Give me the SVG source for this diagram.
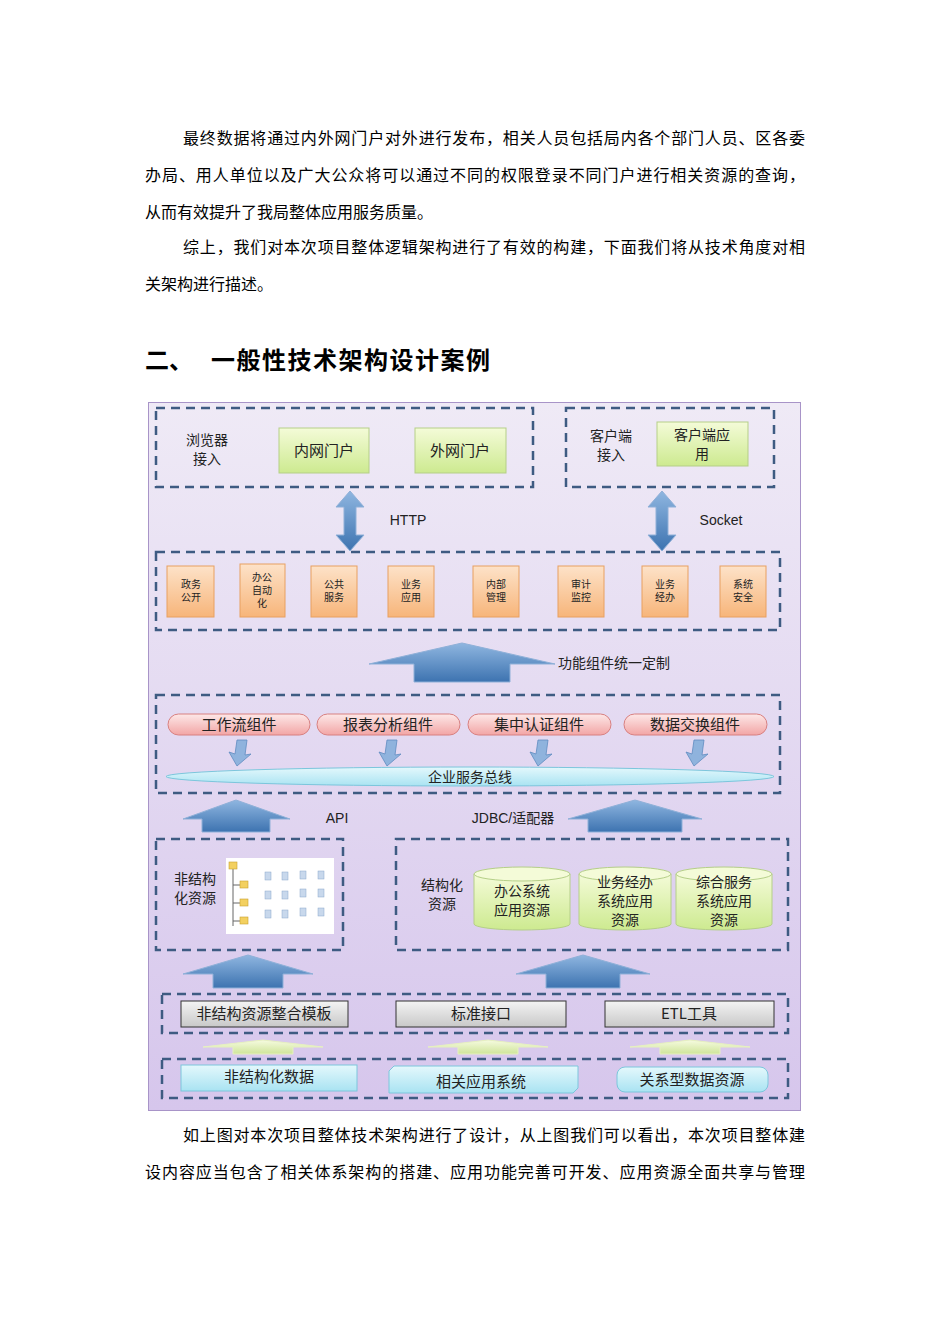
<svg xmlns="http://www.w3.org/2000/svg" width="950" height="1344" viewBox="0 0 950 1344">
<defs>
<linearGradient id="bg" x1="0" y1="0" x2="0" y2="1"><stop offset="0" stop-color="#efeaf6"/><stop offset="1" stop-color="#d6c6ec"/></linearGradient>
<linearGradient id="gr" x1="0" y1="0" x2="0" y2="1"><stop offset="0" stop-color="#f4fbd8"/><stop offset="1" stop-color="#cdea90"/></linearGradient>
<linearGradient id="or" x1="0" y1="0" x2="0" y2="1"><stop offset="0" stop-color="#fde2c8"/><stop offset="1" stop-color="#f7b57a"/></linearGradient>
<linearGradient id="pk" x1="0" y1="0" x2="0" y2="1"><stop offset="0" stop-color="#fde8e8"/><stop offset="1" stop-color="#f2a5a5"/></linearGradient>
<linearGradient id="cy" x1="0" y1="0" x2="0" y2="1"><stop offset="0" stop-color="#e4f8fc"/><stop offset="1" stop-color="#a9e3f2"/></linearGradient>
<linearGradient id="gy" x1="0" y1="0" x2="0" y2="1"><stop offset="0" stop-color="#f4f4f4"/><stop offset="1" stop-color="#c8c8c8"/></linearGradient>
<linearGradient id="bl" x1="0" y1="0" x2="0" y2="1"><stop offset="0" stop-color="#8fb6e0"/><stop offset="1" stop-color="#3d73b0"/></linearGradient>
<linearGradient id="lg" x1="0" y1="0" x2="0" y2="1"><stop offset="0" stop-color="#f6fbe0"/><stop offset="1" stop-color="#cfe59a"/></linearGradient>
</defs>
<style>
.p{font-family:"Noto Sans CJK SC","Liberation Serif",serif;font-size:16px;fill:#000}
.h{font-family:"Noto Sans CJK SC",sans-serif;font-size:24px;font-weight:bold;fill:#000}
.t{font-family:"Noto Sans CJK SC","Liberation Sans",sans-serif;font-size:15px;fill:#222;text-anchor:middle}
.m{font-family:"Noto Sans CJK SC","Liberation Sans",sans-serif;font-size:14px;fill:#222;text-anchor:middle}
.s{font-family:"Noto Sans CJK SC",sans-serif;font-size:10px;fill:#222;text-anchor:middle}
.l{font-family:"Liberation Sans","Noto Sans CJK SC",sans-serif;font-size:14px;fill:#222;text-anchor:middle}
.d{fill:none;stroke:#3e5b82;stroke-width:2.5;stroke-dasharray:9,6}
.ba{fill:url(#bl);stroke:#8fb0d8;stroke-width:1}
.ga{fill:url(#lg);stroke:#e6f0c0;stroke-width:1}
</style>
<rect width="950" height="1344" fill="#fff"/>
<g id="text-top">
<text class="p" x="183" y="144" textLength="622">最终数据将通过内外网门户对外进行发布，相关人员包括局内各个部门人员、区各委</text>
<text class="p" x="145" y="181" textLength="660">办局、用人单位以及广大公众将可以通过不同的权限登录不同门户进行相关资源的查询，</text>
<text class="p" x="145" y="218">从而有效提升了我局整体应用服务质量。</text>
<text class="p" x="183" y="253" textLength="622">综上，我们对本次项目整体逻辑架构进行了有效的构建，下面我们将从技术角度对相</text>
<text class="p" x="145" y="290">关架构进行描述。</text>
<text class="h" x="145" y="369">二、</text>
<text class="h" x="211" y="369" textLength="279">一般性技术架构设计案例</text>
</g>
<rect x="148.5" y="402.5" width="652" height="708" fill="url(#bg)" stroke="#a894c8"/>
<g id="groups">
<rect class="d" x="156" y="408" width="377" height="79"/>
<rect class="d" x="566" y="408" width="208" height="79"/>
<rect class="d" x="156" y="552" width="624" height="78"/>
<rect class="d" x="156" y="695" width="624" height="98"/>
<rect class="d" x="156" y="839" width="187" height="111"/>
<rect class="d" x="396" y="839" width="392" height="111"/>
<rect class="d" x="162" y="994" width="626" height="39"/>
<rect class="d" x="162" y="1059" width="626" height="39"/>
</g>
<g id="connectors">
<path class="ba" d="M350 491 L364 507 L356 507 L356 535 L364 535 L350 551 L336 535 L344 535 L344 507 L336 507 Z"/>
<path class="ba" d="M662 491 L676 507 L668 507 L668 535 L676 535 L662 551 L648 535 L656 535 L656 507 L648 507 Z"/>
<path class="ba" d="M369 664 L462 643 L555 664 L510 664 L510 682 L414 682 L414 664 Z"/>
<path class="ba" d="M183 819 L236 800 L290 819 L270 819 L270 832 L202 832 L202 819 Z"/>
<path class="ba" d="M568 819 L635 800 L702 819 L682 819 L682 832 L588 832 L588 819 Z"/>
<path class="ba" d="M183 974 L248 955 L313 974 L283 974 L283 988 L213 988 L213 974 Z"/>
<path class="ba" d="M516 974 L583 955 L650 974 L620 974 L620 988 L546 988 L546 974 Z"/>
<path class="ga" d="M203 1047 L263 1040 L323 1047 L293 1047 L293 1054 L233 1054 L233 1047 Z"/>
<path class="ga" d="M428 1047 L488 1040 L548 1047 L518 1047 L518 1054 L458 1054 L458 1047 Z"/>
<path class="ga" d="M630 1047 L690 1040 L750 1047 L720 1047 L720 1054 L660 1054 L660 1047 Z"/>
<g fill="#8fb3dd" stroke="#5f8bc0" stroke-width="0.8">
<path d="M237 740 L247 740 L245 755 L251 754 L237 766 L229 752 L235 754 Z"/>
<path d="M387 740 L397 740 L395 755 L401 754 L387 766 L379 752 L385 754 Z"/>
<path d="M538 740 L548 740 L546 755 L552 754 L538 766 L530 752 L536 754 Z"/>
<path d="M694 740 L704 740 L702 755 L708 754 L694 766 L686 752 L692 754 Z"/>
</g>
<text class="l" x="408" y="525">HTTP</text>
<text class="l" x="721" y="525">Socket</text>
<text class="t" x="558" y="668" style="text-anchor:start;font-size:14px">功能组件统一定制</text>
<text class="l" x="337" y="823">API</text>
<text class="l" x="513" y="823">JDBC/适配器</text>
</g>
<g id="access">
<text class="m" x="207" y="445">浏览器</text><text class="m" x="207" y="464">接入</text>
<text class="m" x="611" y="441">客户端</text><text class="m" x="611" y="460">接入</text>
</g>
<g id="n-intranet"><rect x="279" y="428" width="90" height="45" fill="url(#gr)" stroke="#b5cf88"/><text class="t" x="324" y="456">内网门户</text></g>
<g id="n-extranet"><rect x="415" y="428" width="91" height="45" fill="url(#gr)" stroke="#b5cf88"/><text class="t" x="460" y="456">外网门户</text></g>
<g id="n-client"><rect x="657" y="422" width="91" height="44" fill="url(#gr)" stroke="#b5cf88"/><text class="m" x="702" y="440">客户端应</text><text class="m" x="702" y="459">用</text></g>
<g id="functions" stroke="#e8a060">
<g id="f1"><rect x="167" y="566" width="47" height="51" fill="url(#or)"/><text class="s" x="191" y="588" stroke="none">政务</text><text class="s" x="191" y="601" stroke="none">公开</text></g>
<g id="f2"><rect x="240" y="564" width="45" height="53" fill="url(#or)"/><text class="s" x="262" y="581" stroke="none">办公</text><text class="s" x="262" y="594" stroke="none">自动</text><text class="s" x="262" y="607" stroke="none">化</text></g>
<g id="f3"><rect x="311" y="566" width="46" height="51" fill="url(#or)"/><text class="s" x="334" y="588" stroke="none">公共</text><text class="s" x="334" y="601" stroke="none">服务</text></g>
<g id="f4"><rect x="388" y="566" width="46" height="51" fill="url(#or)"/><text class="s" x="411" y="588" stroke="none">业务</text><text class="s" x="411" y="601" stroke="none">应用</text></g>
<g id="f5"><rect x="473" y="566" width="46" height="51" fill="url(#or)"/><text class="s" x="496" y="588" stroke="none">内部</text><text class="s" x="496" y="601" stroke="none">管理</text></g>
<g id="f6"><rect x="558" y="566" width="46" height="51" fill="url(#or)"/><text class="s" x="581" y="588" stroke="none">审计</text><text class="s" x="581" y="601" stroke="none">监控</text></g>
<g id="f7"><rect x="642" y="566" width="46" height="51" fill="url(#or)"/><text class="s" x="665" y="588" stroke="none">业务</text><text class="s" x="665" y="601" stroke="none">经办</text></g>
<g id="f8"><rect x="720" y="566" width="46" height="51" fill="url(#or)"/><text class="s" x="743" y="588" stroke="none">系统</text><text class="s" x="743" y="601" stroke="none">安全</text></g>
</g>
<g id="components" stroke="#d88080">
<g id="c1"><rect x="168" y="714" width="142" height="21" rx="10.5" fill="url(#pk)"/><text class="t" x="239" y="730" stroke="none">工作流组件</text></g>
<g id="c2"><rect x="317" y="714" width="143" height="21" rx="10.5" fill="url(#pk)"/><text class="t" x="388" y="730" stroke="none">报表分析组件</text></g>
<g id="c3"><rect x="468" y="714" width="143" height="21" rx="10.5" fill="url(#pk)"/><text class="t" x="539" y="730" stroke="none">集中认证组件</text></g>
<g id="c4"><rect x="624" y="714" width="143" height="21" rx="10.5" fill="url(#pk)"/><text class="t" x="695" y="730" stroke="none">数据交换组件</text></g>
</g>
<g id="esb"><ellipse cx="470" cy="776.5" rx="304" ry="9.5" fill="url(#cy)" stroke="#7cc6dc"/><text class="t" x="470" y="782" style="font-size:14px">企业服务总线</text></g>
<g id="unstructured">
<text class="m" x="195" y="884">非结构</text><text class="m" x="195" y="903">化资源</text>
<rect x="226" y="858" width="108" height="76" fill="#fff"/>
<path d="M233 868 V926 M233 885 H240 M233 903 H240 M233 921 H240" stroke="#666" fill="none"/>
<g fill="#f3d060" stroke="#c9a030" stroke-width="0.6"><rect x="229" y="862" width="8" height="7"/><rect x="240" y="881" width="8" height="7"/><rect x="240" y="899" width="8" height="7"/><rect x="240" y="917" width="8" height="7"/></g>
<g fill="#c8d8ec" stroke="#8aa8cc" stroke-width="0.5">
<rect x="265" y="872" width="6" height="8"/><rect x="282" y="872" width="6" height="8"/><rect x="300" y="871" width="6" height="8"/><rect x="318" y="871" width="6" height="8"/>
<rect x="265" y="891" width="6" height="8"/><rect x="282" y="891" width="6" height="8"/><rect x="300" y="889" width="6" height="8"/><rect x="318" y="889" width="6" height="8"/>
<rect x="265" y="910" width="6" height="8"/><rect x="282" y="910" width="6" height="8"/><rect x="300" y="908" width="6" height="8"/><rect x="318" y="908" width="6" height="8"/>
</g>
</g>
<g id="structured">
<text class="m" x="442" y="890">结构化</text><text class="m" x="442" y="909">资源</text>
<g id="db1"><path d="M474 874 V924 A48 6 0 0 0 570 924 V874" fill="url(#gr)" stroke="#b5cf88"/><ellipse cx="522" cy="874" rx="48" ry="7" fill="#f4fbd8" stroke="#b5cf88"/><text class="m" x="522" y="896">办公系统</text><text class="m" x="522" y="915">应用资源</text></g>
<g id="db2"><path d="M579 874 V924 A46 6 0 0 0 671 924 V874" fill="url(#gr)" stroke="#b5cf88"/><ellipse cx="625" cy="874" rx="46" ry="7" fill="#f4fbd8" stroke="#b5cf88"/><text class="m" x="625" y="887">业务经办</text><text class="m" x="625" y="906">系统应用</text><text class="m" x="625" y="925">资源</text></g>
<g id="db3"><path d="M676 874 V924 A48 6 0 0 0 772 924 V874" fill="url(#gr)" stroke="#b5cf88"/><ellipse cx="724" cy="874" rx="48" ry="7" fill="#f4fbd8" stroke="#b5cf88"/><text class="m" x="724" y="887">综合服务</text><text class="m" x="724" y="906">系统应用</text><text class="m" x="724" y="925">资源</text></g>
</g>
<g id="tools" stroke="#333">
<g id="t1"><rect x="181" y="1001" width="167" height="26" fill="url(#gy)"/><text class="t" x="264" y="1019" stroke="none">非结构资源整合模板</text></g>
<g id="t2"><rect x="396" y="1001" width="170" height="26" fill="url(#gy)"/><text class="t" x="481" y="1019" stroke="none">标准接口</text></g>
<g id="t3"><rect x="605" y="1001" width="169" height="26" fill="url(#gy)"/><text class="t" x="689" y="1019" stroke="none">ETL工具</text></g>
</g>
<g id="sources" stroke="#7cc6dc">
<g id="s1"><rect x="181" y="1065" width="176" height="26" fill="url(#cy)"/><text class="t" x="269" y="1082" stroke="none">非结构化数据</text></g>
<g id="s2"><path d="M389 1071 L394 1066 L578 1066 L578 1088 L573 1093 L389 1093 Z" fill="url(#cy)"/><text class="t" x="481" y="1087" stroke="none">相关应用系统</text></g>
<g id="s3"><rect x="617" y="1067" width="151" height="25" rx="8" fill="url(#cy)"/><text class="t" x="692" y="1085" stroke="none">关系型数据资源</text></g>
</g>
<g id="text-bottom">
<text class="p" x="183" y="1141" textLength="622">如上图对本次项目整体技术架构进行了设计，从上图我们可以看出，本次项目整体建</text>
<text class="p" x="145" y="1178" textLength="660">设内容应当包含了相关体系架构的搭建、应用功能完善可开发、应用资源全面共享与管理</text>
</g>
</svg>
